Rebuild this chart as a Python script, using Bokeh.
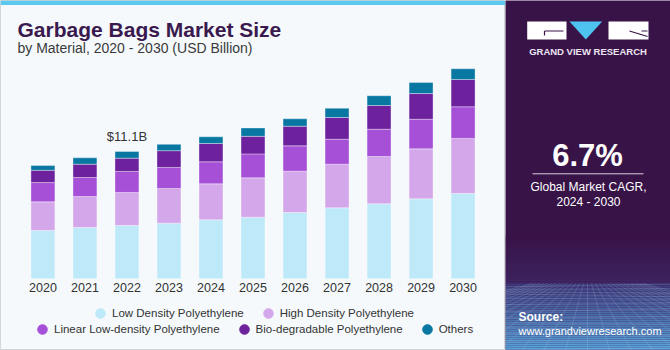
import numpy as np
from bokeh.plotting import figure
from bokeh.layouts import row
from bokeh.models import (FactorRange, Range1d, Legend, LegendItem, Label,
                          BoxAnnotation, ColumnDataSource)
from bokeh.core.properties import value
from bokeh.embed import file_html
from bokeh.resources import INLINE

# ---------------- data ----------------
years = ["2020", "2021", "2022", "2023", "2024", "2025",
         "2026", "2027", "2028", "2029", "2030"]
ldpe = [4.21, 4.47, 4.65, 4.85, 5.14, 5.37, 5.78, 6.19, 6.54, 6.97, 7.44]
hdpe = [2.50, 2.70, 2.88, 3.03, 3.14, 3.43, 3.60, 3.80, 4.12, 4.36, 4.80]
lldpe = [1.68, 1.66, 1.83, 1.83, 1.92, 2.09, 2.21, 2.18, 2.38, 2.58, 2.76]
bio = [1.07, 1.16, 1.16, 1.46, 1.60, 1.53, 1.71, 1.89, 2.07, 2.24, 2.38]
others = [0.41, 0.56, 0.58, 0.55, 0.58, 0.73, 0.65, 0.81, 0.85, 0.96, 0.93]

series_names = ["Low Density Polyethylene", "High Density Polyethylene",
                "Linear Low-density Polyethylene", "Bio-degradable Polyethylene",
                "Others"]
series_keys = ["ldpe", "hdpe", "lldpe", "bio", "others"]
colors = ["#BEE9F9", "#D4A7EB", "#A550D7", "#6E219D", "#0878A3"]

highlight_year = "2022"
cagr_text = "6.7%"

FONT = "Liberation Sans"

# ---------------- left chart ----------------
W, H = 505, 350
base_px = 278.3          # baseline from top (px)
px_per_unit = 11.47
y0 = -(H - base_px) / px_per_unit
y1 = base_px / px_per_unit


def py(px_from_top):
    return (base_px - px_from_top) / px_per_unit


pad = 0.51
unit_px = W / (len(years) + 2 * pad)


def px(x_px):
    return x_px / unit_px - pad


p = figure(width=W, height=H, x_range=FactorRange(*years, range_padding=pad,
                                                  range_padding_units="absolute"),
           y_range=Range1d(y0, y1), output_backend="svg", toolbar_location=None,
           x_axis_location=None, y_axis_location=None, min_border=0)
p.background_fill_color = "#F5F9FC"
p.border_fill_color = "#F5F9FC"
p.outline_line_color = "#D2D5D8"
p.grid.visible = False

# top accent strip
p.add_layout(BoxAnnotation(bottom=py(4.5), top=y1, fill_color="#5BC8EF",
                           fill_alpha=1, line_color=None))

src = ColumnDataSource(dict(years=years, ldpe=ldpe, hdpe=hdpe, lldpe=lldpe,
                            bio=bio, others=others))
p.vbar_stack(series_keys, x="years", width=0.57, source=src, color=colors,
             line_color="#ffffff", line_alpha=0.35, line_width=1)

# year labels
p.text(x=years, y=[0] * len(years), text=years, y_offset=9,
       text_align="center", text_baseline="middle", text_font=value(FONT),
       text_font_size="12.5px", text_color="#333333")

# total label
totals = [a + b + c + d + e for a, b, c, d, e in zip(ldpe, hdpe, lldpe, bio, others)]
hi = years.index(highlight_year)
p.text(x=[years[hi]], y=[totals[hi]], text=[f"${totals[hi]:.1f}B"], y_offset=-15,
       text_align="center", text_baseline="middle", text_font=value(FONT),
       text_font_size="13px", text_color="#333333")

# titles
p.add_layout(Label(x=px(17), y=py(28.5), text="Garbage Bags Market Size",
                   text_font=FONT, text_font_style="bold", text_font_size="21px",
                   text_color="#3A1A4E", text_baseline="middle"))
p.add_layout(Label(x=px(17), y=py(47), text="by Material, 2020 - 2030 (USD Billion)",
                   text_font=FONT, text_font_size="14px",
                   text_color="#3A3A3A", text_baseline="middle"))

# legends (circle markers; the dummy point is NaN so it is never drawn)
dummies = [p.scatter(x=[years[0]], y=[np.nan], marker="circle", color=c, size=9)
           for c in colors]
items = [LegendItem(label=n, renderers=[r]) for n, r in zip(series_names, dummies)]


def make_legend(its, loc):
    lg = Legend(items=its, location=loc, orientation="horizontal",
                glyph_width=24, glyph_height=24, label_standoff=0, spacing=12,
                padding=0, margin=0, border_line_color=None,
                background_fill_alpha=0, label_text_font=FONT,
                label_text_font_size="11.5px", label_text_color="#333333",
                label_height=14)
    return lg


p.add_layout(make_legend(items[:2], (88, 25)), "center")
p.add_layout(make_legend(items[2:], (30, 9)), "center")

# ---------------- right panel ----------------
RW = 165
q = figure(width=RW, height=H, x_range=Range1d(0, RW), y_range=Range1d(H, 0),
           output_backend="svg", toolbar_location=None, x_axis_location=None,
           y_axis_location=None, min_border=0)
q.background_fill_color = "#381348"
q.border_fill_color = "#381348"
q.outline_line_color = None
q.grid.visible = False


def lerp(c1, c2, t):
    a = [int(c1[i:i + 2], 16) for i in (1, 3, 5)]
    b = [int(c2[i:i + 2], 16) for i in (1, 3, 5)]
    return "#%02x%02x%02x" % tuple(int(round(a[k] + (b[k] - a[k]) * t)) for k in range(3))


# background gradient
tops, bots, cols = [], [], []
for yy in np.arange(235, 283, 2):
    t = (yy - 235) / 48
    tops.append(yy); bots.append(yy + 2); cols.append(lerp("#381348", "#3E2562", t))
for yy in np.arange(283, 350, 2):
    t = (yy - 283) / 67
    tops.append(yy); bots.append(yy + 2); cols.append(lerp("#3C3A7C", "#5AA8DF", t))
q.quad(left=0, right=RW, top=tops, bottom=bots, color=cols, line_color=None)

# faint grid texture
hx = []
hy = []
for k in range(1, 14):
    yy = 283 + (k ** 1.45) * 1.6
    if yy < 350:
        hx.append([0, RW]); hy.append([yy + 2 * np.sin(k), yy - 2 * np.cos(k)])
for k in range(-14, 15):
    hx.append([82 + k * 4, 82 + k * 22]); hy.append([283, 350])
q.multi_line(xs=hx, ys=hy, line_color="#BFD8F2", line_alpha=0.18, line_width=1)

# logo
q.quad(left=[21.7, 103], right=[61, 143], top=[21, 21], bottom=[39, 39],
       color="#FFFFFF", line_color=None)
q.patch(x=[64, 96.7, 80.3], y=[21, 21, 39], color="#4FC3F0", line_color=None)
q.multi_line(xs=[[39, 58], [39, 39], [136, 142], [124, 142]],
             ys=[[30.5, 30.5], [30.5, 35], [30.5, 30.5], [30.5, 36]],
             line_color="#381348", line_width=1.2)
q.add_layout(Label(x=82.5, y=51, text="GRAND VIEW RESEARCH", text_font=FONT,
                   text_font_style="bold", text_font_size="9.5px", text_color="#EDE6F2",
                   text_align="center", text_baseline="middle"))

q.add_layout(Label(x=82, y=155, text=cagr_text, text_font=FONT,
                   text_font_style="bold", text_font_size="31px", text_color="#FFFFFF",
                   text_align="center", text_baseline="middle"))
q.segment(x0=[27], y0=[173.3], x1=[138], y1=[173.3], line_color="#D8CFE0", line_width=1)
q.add_layout(Label(x=83, y=186, text="Global Market CAGR,", text_font=FONT,
                   text_font_size="12px", text_color="#FFFFFF",
                   text_align="center", text_baseline="middle"))
q.add_layout(Label(x=83, y=201, text="2024 - 2030", text_font=FONT,
                   text_font_size="12px", text_color="#FFFFFF",
                   text_align="center", text_baseline="middle"))
q.add_layout(Label(x=13, y=316, text="Source:", text_font=FONT,
                   text_font_style="bold", text_font_size="12px", text_color="#FFFFFF",
                   text_align="left", text_baseline="middle"))
q.add_layout(Label(x=13, y=330, text="www.grandviewresearch.com", text_font=FONT,
                   text_font_size="11px", text_color="#FFFFFF",
                   text_align="left", text_baseline="middle"))

layout = row(p, q)
open("out.html", "w").write(file_html(layout, INLINE))
